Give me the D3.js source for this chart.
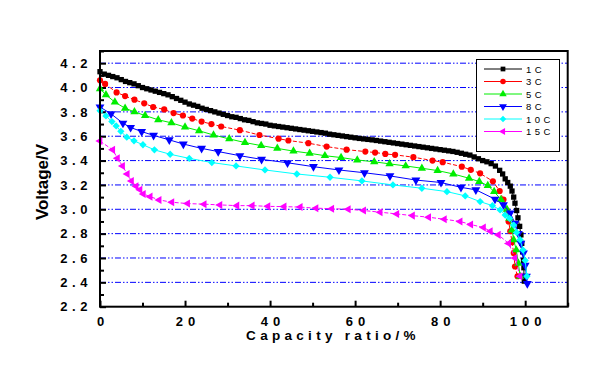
<!DOCTYPE html>
<html>
<head>
<meta charset="utf-8">
<script src="https://cdn.jsdelivr.net/npm/d3@7"></script>
<style>
  body { margin: 0; background: #fff; }
  text { font-family: Arial, "Liberation Sans", sans-serif; }
</style>
</head>
<body>
<div id="chart"></div>
<script>
const WIDTH = 614;
const HEIGHT = 370;
const PLOT = { LEFT: 100, RIGHT: 567.7, TOP: 51, BOTTOM: 306.7 };

// data: [capacity ratio %, voltage V]
const rate1C = [
    [0, 4.13], [1, 4.11], [2, 4.10], [3, 4.09], [4, 4.08], [5, 4.065], [6, 4.05], [7, 4.04], [8, 4.03], [9, 4.015],
    [10, 4.00], [11, 3.99], [12, 3.98], [13, 3.97], [14, 3.96], [15, 3.95], [16, 3.94], [17, 3.925], [18, 3.91], [19, 3.895],
    [20, 3.88], [21, 3.865], [22, 3.855], [23, 3.845], [24, 3.83], [25, 3.82], [26, 3.81], [27, 3.80], [28, 3.79], [29, 3.78],
    [30, 3.77], [31, 3.76], [32, 3.755], [33, 3.745], [34, 3.735], [35, 3.73], [36, 3.72], [37, 3.71], [38, 3.705], [39, 3.70],
    [40, 3.69], [41, 3.685], [42, 3.68], [43, 3.675], [44, 3.67], [45, 3.665], [46, 3.66], [47, 3.655], [48, 3.65], [49, 3.645],
    [50, 3.64], [51, 3.635], [52, 3.63], [53, 3.625], [54, 3.617], [55, 3.612], [56, 3.607], [57, 3.602], [58, 3.597], [59, 3.592],
    [60, 3.587], [61, 3.582], [62, 3.578], [63, 3.574], [64, 3.57], [65, 3.565], [66, 3.56], [67, 3.555], [68, 3.55], [69, 3.545],
    [70, 3.54], [71, 3.535], [72, 3.53], [73, 3.525], [74, 3.52], [75, 3.515], [76, 3.51], [77, 3.505], [78, 3.50], [79, 3.495],
    [80, 3.49], [81, 3.485], [82, 3.48], [83, 3.475], [84, 3.468], [85, 3.46], [86, 3.452], [87, 3.445], [88, 3.43], [89, 3.415],
    [90, 3.40], [91, 3.39], [92, 3.375], [93, 3.355], [94, 3.32], [94.7, 3.29], [95.3, 3.25], [95.9, 3.22], [96.5, 3.19],
    [96.9, 3.15], [97.3, 3.10], [97.6, 3.05], [98.0, 2.99], [98.3, 2.93], [98.7, 2.86], [99.0, 2.79], [99.2, 2.72],
    [99.4, 2.65], [99.6, 2.58], [99.7, 2.52], [99.7, 2.45], [99.8, 2.41]
];
const rate3C = [
    [0, 4.06], [1.2, 4.03], [3.9, 3.96], [5.9, 3.93], [8.1, 3.90], [10.4, 3.87], [12.5, 3.84], [15.1, 3.82], [17.3, 3.79],
    [19.5, 3.77], [21.7, 3.745], [23.9, 3.72], [26.2, 3.70], [28.5, 3.68], [32.9, 3.65], [37.5, 3.61], [42, 3.58], [44.3, 3.565],
    [49, 3.543], [53.3, 3.515], [58, 3.49], [62.4, 3.474], [64.7, 3.466], [67.1, 3.455], [69.4, 3.447], [73.7, 3.428],
    [78.2, 3.40], [80.6, 3.387], [85.1, 3.35], [87.2, 3.324], [89.4, 3.295], [92.4, 3.23], [94, 3.15], [94.9, 3.08],
    [95.7, 2.99], [96.1, 2.90], [96.5, 2.82], [96.9, 2.73], [97.3, 2.64], [97.6, 2.53], [98.2, 2.45]
];
const rate5C = [
    [0, 3.99], [1.4, 3.94], [3.5, 3.88], [5.9, 3.83], [8.1, 3.80], [10.6, 3.77], [13.7, 3.735], [16.8, 3.71], [20, 3.675],
    [23.3, 3.645], [26.7, 3.61], [30.4, 3.578], [34.1, 3.548], [37.9, 3.523], [41.7, 3.50], [45.5, 3.478], [49.3, 3.46],
    [52.9, 3.44], [56.7, 3.425], [60.5, 3.405], [64.5, 3.39], [68.1, 3.373], [71.9, 3.356], [75.7, 3.337], [79.4, 3.318],
    [83.1, 3.29], [86.8, 3.255], [89.2, 3.227], [91.2, 3.195], [92.7, 3.145], [94.3, 3.08], [95.7, 3.00], [96.3, 2.926],
    [96.9, 2.83], [97.3, 2.75], [97.9, 2.666], [98.4, 2.557], [98.8, 2.45]
];
const rate8C = [
    [0, 3.84], [2.6, 3.784], [5.4, 3.707], [7.2, 3.672], [9.8, 3.638], [12.6, 3.607], [16.3, 3.57], [19.6, 3.536],
    [23.9, 3.50], [27.8, 3.474], [32.9, 3.44], [38, 3.41], [44.1, 3.382], [50.2, 3.35], [56.2, 3.323], [62.2, 3.30],
    [68.2, 3.274], [74.3, 3.24], [80.2, 3.22], [84.9, 3.18], [88.4, 3.16], [92.9, 3.083], [94.9, 3.036], [96.5, 2.97],
    [97.6, 2.885], [98.4, 2.80], [99, 2.72], [99.6, 2.64], [100, 2.54], [100.3, 2.45], [100.5, 2.39]
];
const rate10C = [
    [0, 3.81], [1.4, 3.767], [2.8, 3.72], [3.8, 3.685], [4.9, 3.64], [6.3, 3.592], [8, 3.562], [10.1, 3.53], [12.8, 3.488],
    [16.5, 3.452], [21, 3.418], [26.3, 3.384], [32, 3.356], [38.8, 3.323], [46.3, 3.29], [54.1, 3.263], [61.6, 3.233],
    [68.9, 3.20], [75.7, 3.173], [81.6, 3.145], [85.9, 3.11], [89.4, 3.063], [92.3, 3.03], [94.1, 2.995], [95.3, 2.953],
    [96.3, 2.926], [97.3, 2.87], [98, 2.81], [98.8, 2.75], [99.5, 2.665], [100, 2.58], [100.4, 2.45]
];
const rate15C = [
    [0, 3.56], [3, 3.488], [4.1, 3.42], [5.3, 3.356], [6.4, 3.29], [7.4, 3.233], [8.5, 3.19], [9.4, 3.16], [10.2, 3.126],
    [11.8, 3.104], [13.9, 3.077], [16.9, 3.058], [20.6, 3.047], [24.5, 3.042], [28.2, 3.036], [32.2, 3.03], [35.8, 3.03],
    [39.5, 3.024], [43.3, 3.022], [47.1, 3.018], [50.8, 3.009], [54.5, 3.005], [58.4, 3.0], [62, 2.99], [65.9, 2.976],
    [69.8, 2.962], [73.5, 2.948], [77.3, 2.935], [81, 2.918], [84.7, 2.9], [87.2, 2.875], [90.2, 2.85], [91.8, 2.82],
    [93.7, 2.79], [96.1, 2.72], [97.6, 2.6], [98.8, 2.45]
];

const seriesNames = ['1C', '3C', '5C', '8C', '10C', '15C'];
const seriesData = [rate1C, rate3C, rate5C, rate8C, rate10C, rate15C];
const xTicks = [0, 20, 40, 60, 80, 100];
const yTicks = [2.2, 2.4, 2.6, 2.8, 3.0, 3.2, 3.4, 3.6, 3.8, 4.0, 4.2];

const STYLES = [
    { color: '#000000', symbol: d3.symbolSquare, size: 28, rotate: 0, dash: null },
    { color: '#ff0000', symbol: d3.symbolCircle, size: 30, rotate: 0, dash: '4,2' },
    { color: '#00ee00', symbol: d3.symbolTriangle, size: 30, rotate: 0, dash: null },
    { color: '#0000ff', symbol: d3.symbolTriangle, size: 34, rotate: 180, dash: null },
    { color: '#00ffff', symbol: d3.symbolDiamond2, size: 34, rotate: 0, dash: null },
    { color: '#ff00ff', symbol: d3.symbolTriangle, size: 28, rotate: -90, dash: '4,2' }
];

let svg = d3.select('#chart')
    .append('svg')
    .attr('width', WIDTH)
    .attr('height', HEIGHT);

let x = d3.scaleLinear().domain([0, 110]).range([PLOT.LEFT, PLOT.RIGHT]);
let y = d3.scaleLinear().domain([2.2, 4.3]).range([PLOT.BOTTOM, PLOT.TOP]);

// grid lines
svg.append('g')
    .selectAll('line')
    .data(yTicks.slice(1))
    .enter()
    .append('line')
    .attr('x1', PLOT.LEFT)
    .attr('x2', PLOT.RIGHT)
    .attr('y1', (d) => y(d))
    .attr('y2', (d) => y(d))
    .attr('stroke', '#0000ff')
    .attr('stroke-width', 1)
    .attr('stroke-dasharray', '6,2,1.5,2,1.5,2');

// x axis (ticks inside)
let xAxis = svg.append('g')
    .attr('transform', `translate(0,${PLOT.BOTTOM})`)
    .call(d3.axisBottom(x).tickValues(xTicks).tickSizeInner(-6).tickSizeOuter(0).tickPadding(10)
        .tickFormat(d3.format('d')));
xAxis.select('.domain').remove();
xAxis.selectAll('line').attr('stroke-width', 2);
xAxis.selectAll('text')
    .attr('font-size', 13)
    .attr('font-weight', 'bold')
    .attr('fill', '#000')
    .style('letter-spacing', '5px')
    .attr('dx', 2.5);

let xMinor = svg.append('g')
    .attr('transform', `translate(0,${PLOT.BOTTOM})`)
    .call(d3.axisBottom(x).tickValues([10, 30, 50, 70, 90, 110]).tickSizeInner(-4).tickSizeOuter(0).tickFormat(''));
xMinor.select('.domain').remove();
xMinor.selectAll('line').attr('stroke-width', 2);

// y axis (ticks inside)
let yAxis = svg.append('g')
    .attr('transform', `translate(${PLOT.LEFT},0)`)
    .call(d3.axisLeft(y).tickValues(yTicks).tickSizeInner(-6).tickSizeOuter(0).tickPadding(8)
        .tickFormat(d3.format('.1f')));
yAxis.select('.domain').remove();
yAxis.selectAll('line').attr('stroke-width', 2);
yAxis.selectAll('text')
    .attr('font-size', 13)
    .attr('font-weight', 'bold')
    .attr('fill', '#000')
    .style('letter-spacing', '4.6px');

let yMinor = svg.append('g')
    .attr('transform', `translate(${PLOT.LEFT},0)`)
    .call(d3.axisLeft(y).tickValues(d3.range(2.3, 4.31, 0.2)).tickSizeInner(-4).tickSizeOuter(0).tickFormat(''));
yMinor.select('.domain').remove();
yMinor.selectAll('line').attr('stroke-width', 2);

// axis titles
svg.append('text')
    .attr('x', 333)
    .attr('y', 340)
    .attr('text-anchor', 'middle')
    .attr('font-size', 13.5)
    .attr('font-weight', 'bold')
    .style('letter-spacing', '4.3px')
    .text('Capacity ratio/%');

svg.append('text')
    .attr('transform', 'translate(48,182) rotate(-90)')
    .attr('text-anchor', 'middle')
    .attr('font-size', 17)
    .attr('font-weight', 'bold')
    .text('Voltage/V');

// curves
let line = d3.line().x((d) => x(d[0])).y((d) => y(d[1]));

seriesData.forEach((data, i) => {
    let st = STYLES[i];
    let g = svg.append('g').attr('class', 'series');
    g.append('path')
        .datum(data)
        .attr('d', line)
        .attr('fill', 'none')
        .attr('stroke', st.color)
        .attr('stroke-width', 1)
        .attr('stroke-dasharray', st.dash);
    g.selectAll('.marker')
        .data(data)
        .enter()
        .append('path')
        .attr('class', 'marker')
        .attr('d', d3.symbol().type(st.symbol).size(st.size))
        .attr('transform', (d) => `translate(${x(d[0])},${y(d[1])}) rotate(${st.rotate})`)
        .attr('fill', st.color);
});

// frame
svg.append('rect')
    .attr('x', PLOT.LEFT)
    .attr('y', PLOT.TOP)
    .attr('width', PLOT.RIGHT - PLOT.LEFT)
    .attr('height', PLOT.BOTTOM - PLOT.TOP)
    .attr('fill', 'none')
    .attr('stroke', '#000')
    .attr('stroke-width', 2);

// legend
let legend = svg.append('g').attr('id', 'legend');
legend.append('rect')
    .attr('x', 476.5)
    .attr('y', 59.5)
    .attr('width', 83)
    .attr('height', 92)
    .attr('fill', '#fff')
    .attr('stroke', '#000')
    .attr('stroke-width', 1);

seriesNames.forEach((name, i) => {
    let st = STYLES[i];
    let ly = 69 + i * 12.5;
    legend.append('line')
        .attr('x1', 484)
        .attr('x2', 522)
        .attr('y1', ly)
        .attr('y2', ly)
        .attr('stroke', st.color)
        .attr('stroke-width', 1);
    legend.append('path')
        .attr('d', d3.symbol().type(st.symbol).size(st.size * 0.8))
        .attr('transform', `translate(503,${ly}) rotate(${st.rotate})`)
        .attr('fill', st.color);
    legend.append('text')
        .attr('x', 526)
        .attr('y', ly + 3.5)
        .attr('font-size', 9.5)
        .style('letter-spacing', '3.5px')
        .text(name);
});
</script>
</body>
</html>
